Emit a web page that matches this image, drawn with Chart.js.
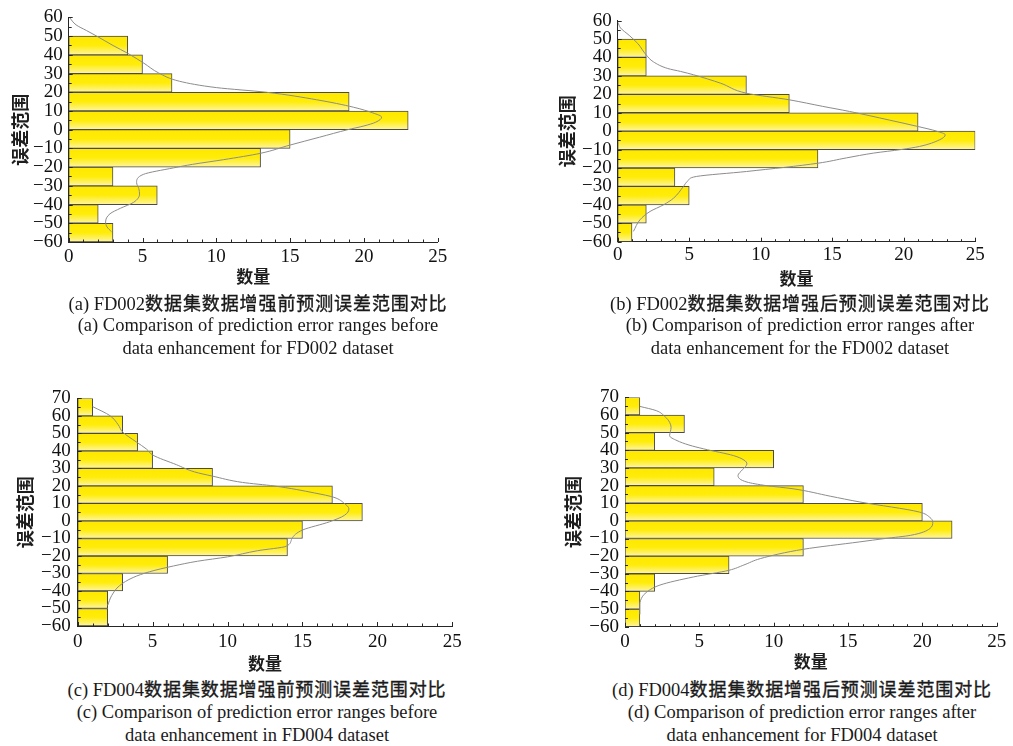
<!DOCTYPE html>
<html>
<head>
<meta charset="utf-8">
<script src="https://cdn.jsdelivr.net/npm/chart.js@4.4.1/dist/chart.umd.min.js"></script>
<style>
  html, body { margin: 0; padding: 0; background: #fff; }
  #wrap { position: relative; width: 1013px; height: 746px; overflow: hidden; }
  canvas { position: absolute; }
  .cap { position: absolute; width: 520px; text-align: center; white-space: nowrap;
         font-family: "Liberation Serif", "Noto Sans CJK SC", serif; font-size: 18.5px;
         line-height: 22px; color: #1a1a1a; }
  .cap .zh { font-family: "Noto Sans CJK SC", sans-serif; font-size: 18px; letter-spacing: 0.9px;
             -webkit-text-stroke: 0.35px #1a1a1a; }
</style>
</head>
<body>
<div id="wrap">
  <canvas id="cA" width="460" height="290" style="left:0px;top:0px;width:460px;height:290px"></canvas>
  <canvas id="cB" width="460" height="290" style="left:540px;top:0px;width:460px;height:290px"></canvas>
  <canvas id="cC" width="470" height="295" style="left:0px;top:380px;width:470px;height:295px"></canvas>
  <canvas id="cD" width="470" height="295" style="left:540px;top:380px;width:470px;height:295px"></canvas>

  <div class="cap" style="left:-2px;top:291px">(a) FD002<span class="zh">数据集数据增强前预测误差范围对比</span></div>
  <div class="cap" style="left:-2px;top:314px">(a) Comparison of prediction error ranges before</div>
  <div class="cap" style="left:-2px;top:337px">data enhancement for FD002 dataset</div>

  <div class="cap" style="left:540px;top:291px">(b) FD002<span class="zh">数据集数据增强后预测误差范围对比</span></div>
  <div class="cap" style="left:540px;top:314px">(b) Comparison of prediction error ranges after</div>
  <div class="cap" style="left:540px;top:337px">data enhancement for the FD002 dataset</div>

  <div class="cap" style="left:-3px;top:677px">(c) FD004<span class="zh">数据集数据增强前预测误差范围对比</span></div>
  <div class="cap" style="left:-3px;top:701px">(c) Comparison of prediction error ranges before</div>
  <div class="cap" style="left:-3px;top:724px">data enhancement in FD004 dataset</div>

  <div class="cap" style="left:542px;top:677px">(d) FD004<span class="zh">数据集数据增强后预测误差范围对比</span></div>
  <div class="cap" style="left:542px;top:701px">(d) Comparison of prediction error ranges after</div>
  <div class="cap" style="left:542px;top:724px">data enhancement for FD004 dataset</div>
</div>

<script>
// ---------------- data ----------------
const binEdgesAB = [-60, -50, -40, -30, -20, -10, 0, 10, 20, 30, 40];
const countsA = [3, 2, 6, 3, 13, 15, 23, 19, 7, 5, 4];
const countsB = [1, 2, 5, 4, 14, 25, 21, 12, 9, 2, 2];

const binEdgesCD = [-60, -50, -40, -30, -20, -10, 0, 10, 20, 30, 40, 50, 60];
const countsC = [2, 2, 3, 6, 14, 15, 19, 17, 9, 5, 4, 3, 1];
const countsD = [1, 1, 2, 7, 12, 22, 20, 12, 6, 10, 2, 4, 1];

const binWidth = 10;

// fitted density curves (error value, count)
const curveAY = [60, 56, 53, 50, 45, 40.8, 35.5, 30.3, 25.9, 22.5, 20, 16, 12, 9, 6.7, 4, 2, 0, -4, -8.2, -12.6, -16, -18.5, -20.4, -23.9, -28.3, -31.5, -34.4, -38.8, -42, -44.9, -49.3, -52, -54.5];
const curveAX = [0.05, 0.5, 1.2, 1.9, 3.0, 4.0, 5.1, 6.1, 7.5, 10, 13.4, 16.8, 19.3, 20.6, 21.2, 20.8, 20, 18.9, 17, 15, 13, 10.5, 8.4, 7.1, 5.05, 4.6, 4.75, 4.8, 4.4, 3.5, 2.8, 2.5, 2.6, 2.9];

const curveBY = [59, 56, 52, 47.6, 41.3, 37.6, 34, 32.4, 30.6, 26, 20.6, 17, 13.5, 10.7, 6, 2.5, 0, -2, -4.7, -8.3, -10, -11.9, -14.5, -17.4, -21.9, -24.6, -27, -30, -36.4, -40, -43.6, -48.1, -54.4];
const curveBX = [0.02, 0.2, 0.8, 1.4, 2.0, 2.5, 3.5, 4.4, 5.3, 7.2, 9.0, 12.0, 14.3, 16.2, 19, 21.0, 22.3, 22.9, 22.5, 21.1, 19.8, 17.9, 16, 14, 9, 5.5, 4.9, 4.6, 3.9, 3.2, 2.26, 1.56, 1.1];

const curveCY = [65.3, 60.1, 55, 50.8, 45.2, 41, 37.7, 32.1, 28, 25.6, 22, 20, 16, 13.5, 10, 6.9, 3.2, -0.5, -5.2, -10, -14.5, -17, -20.5, -23, -25.7, -29, -32.3, -36.9, -42.6, -48.2];
const curveCX = [1.0, 2.16, 2.7, 3.0, 3.9, 4.6, 5.0, 6.6, 7.8, 9.0, 11, 13.1, 15.8, 17.1, 17.8, 18.1, 17.8, 16.8, 15, 14.3, 13.9, 12, 10, 8, 6.4, 4.8, 3.7, 2.8, 2.27, 2.0];

const curveDY = [64.9, 62.5, 59, 55.9, 53, 50.5, 48.3, 45.5, 43, 40.8, 37, 34.5, 32.3, 29, 25.7, 22, 20, 18.2, 14, 10.7, 5, 2, -0.6, -4.4, -8.2, -10, -11.9, -16.1, -21.4, -25, -28, -31.8, -36.4, -41.2, -45, -47.7, -53];
const curveDX = [1.0, 2.1, 2.7, 3.0, 3.1, 3.05, 3.0, 3.5, 4.3, 5.3, 7.3, 8.0, 8.2, 7.9, 7.6, 8.2, 9.5, 11.3, 13.8, 15.8, 19.8, 20.5, 20.7, 20.5, 19.2, 17.5, 15.8, 12.0, 9.1, 8, 7.0, 4.6, 2.35, 1.35, 1.05, 1.0, 1.0];

const xTickValues = [0, 5, 10, 15, 20, 25];
const yTickValuesAB = [-60, -50, -40, -30, -20, -10, 0, 10, 20, 30, 40, 50, 60];
const yTickValuesCD = [-60, -50, -40, -30, -20, -10, 0, 10, 20, 30, 40, 50, 60, 70];

const xTitle = '数量';
const yTitle = '误差范围';

// ---------------- styling ----------------
const AXIS_COLOR = '#262626';
const TICK_FONT = { family: 'Liberation Serif', size: 19, lineHeight: 1.2 };
const xMinorStep = 1, yMinorStep = 5;

const innerTicks = {
  id: 'innerTicks',
  afterDatasetsDraw(chart) {
    const { ctx } = chart;
    const xs = chart.scales.x, ys = chart.scales.y;
    const left = xs.getPixelForValue(xs.min);
    const bottom = ys.getPixelForValue(ys.min);
    ctx.save();
    ctx.strokeStyle = AXIS_COLOR;
    ctx.lineWidth = 1;
    ctx.beginPath();
    for (let v = ys.min; v <= ys.max + 1e-9; v += yMinorStep) {
      const p = Math.round(ys.getPixelForValue(v)) + 0.5;
      const len = (Math.abs(v) % 10 === 0) ? 4 : 3;
      ctx.moveTo(left, p); ctx.lineTo(left + len, p);
    }
    for (let v = xs.min; v <= xs.max + 1e-9; v += xMinorStep) {
      const p = Math.round(xs.getPixelForValue(v)) + 0.5;
      const len = (v % 5 === 0) ? 4 : 2.5;
      ctx.moveTo(p, bottom); ctx.lineTo(p, bottom - len);
    }
    ctx.stroke();
    ctx.restore();
  }
};

function barGradient(context) {
  const chart = context.chart;
  const raw = context.raw;
  const ys = chart.scales.y;
  if (!chart.chartArea || !ys || !raw) return '#FFEE00';
  const top = ys.getPixelForValue(raw.y + binWidth / 2);
  const bot = ys.getPixelForValue(raw.y - binWidth / 2);
  if (!isFinite(top) || !isFinite(bot) || top === bot) return '#FFEE00';
  const g = chart.ctx.createLinearGradient(0, top, 0, bot);
  g.addColorStop(0, '#FFE800');
  g.addColorStop(0.5, '#FFEC08');
  g.addColorStop(1, '#FFF5A0');
  return g;
}

function makeChart(id, edges, counts, cy, cx, yTicks, yMax, lay) {
  const bars = edges.map((e, i) => ({ x: counts[i], y: e + binWidth / 2 }));
  const curve = cy.map((v, i) => ({ x: cx[i], y: v }));
  return new Chart(document.getElementById(id), {
    type: 'bar',
    data: {
      datasets: [
        {
          type: 'line', data: curve, indexAxis: 'y',
          borderColor: '#8c8c8c', borderWidth: 1, pointRadius: 0,
          cubicInterpolationMode: 'monotone', fill: false, order: 0,
          xAxisID: 'x', yAxisID: 'y'
        },
        {
          type: 'bar', data: bars, indexAxis: 'y',
          backgroundColor: barGradient, borderColor: '#4a4a4a', borderWidth: 1,
          borderSkipped: false, barPercentage: 1, categoryPercentage: 1, order: 1,
          xAxisID: 'x', yAxisID: 'y'
        }
      ]
    },
    options: {
      indexAxis: 'y',
      responsive: false,
      animation: false,
      events: [],
      layout: { padding: { left: 0, top: lay.top, right: lay.right, bottom: 0 } },
      plugins: { legend: { display: false }, tooltip: { enabled: false } },
      scales: {
        x: {
          type: 'linear', position: 'bottom', min: 0, max: 25,
          offset: false,
          grid: { display: false, drawTicks: false, offset: false },
          border: { display: true, color: AXIS_COLOR, width: 1 },
          afterBuildTicks: s => { s.ticks = xTickValues.map(v => ({ value: v })); },
          ticks: { font: TICK_FONT, color: '#111', padding: lay.xPad, maxRotation: 0,
                   callback: v => String(v).replace('-', '\u2212') },
          title: { display: true, text: xTitle, color: '#1e1e1e',
                   font: { family: 'Noto Sans CJK SC', size: 17, weight: 'bold', lineHeight: 1.2 },
                   padding: { top: 0, bottom: lay.xTitlePad } },
          afterFit: s => { s.height = lay.xH; }
        },
        y: {
          type: 'linear', position: 'left', min: -60, max: yMax,
          offset: false,
          grid: { display: false, drawTicks: false, offset: false },
          border: { display: true, color: AXIS_COLOR, width: 1 },
          afterBuildTicks: s => { s.ticks = yTicks.map(v => ({ value: v })); },
          ticks: { font: TICK_FONT, color: '#111', padding: lay.yPad, autoSkip: false,
                   callback: v => String(v).replace('-', '\u2212') },
          title: { display: true, text: yTitle, color: '#1e1e1e',
                   font: { family: 'Noto Sans CJK SC', size: 18, weight: 'bold', lineHeight: 1.2 },
                   padding: { top: lay.yTitlePad, bottom: 0 } },
          afterFit: s => { s.width = lay.yW; }
        }
      }
    },
    plugins: [innerTicks]
  });
}

makeChart('cA', binEdgesAB, countsA, curveAY, curveAX, yTickValuesAB, 60,
  { top: 13.3, right: 22.3, yW: 68.7, xH: 48, xPad: 3.6, yPad: 6, yTitlePad: 9.2, xTitlePad: 2.8 });
makeChart('cB', binEdgesAB, countsB, curveBY, curveBX, yTickValuesAB, 60,
  { top: 20.6, right: 24.7, yW: 77.7, xH: 48.3, xPad: 2, yPad: 6, yTitlePad: 16.7, xTitlePad: 1.5 });
makeChart('cC', binEdgesCD, countsC, curveCY, curveCX, yTickValuesCD, 70,
  { top: 14, right: 17.7, yW: 77.7, xH: 49, xPad: 4.3, yPad: 7, yTitlePad: 14.2, xTitlePad: 1.5 });
makeChart('cD', binEdgesCD, countsD, curveDY, curveDX, yTickValuesCD, 70,
  { top: 16.7, right: 13.3, yW: 85, xH: 48.3, xPad: 3.6, yPad: 6, yTitlePad: 22.5, xTitlePad: 3.1 });
</script>
</body>
</html>
